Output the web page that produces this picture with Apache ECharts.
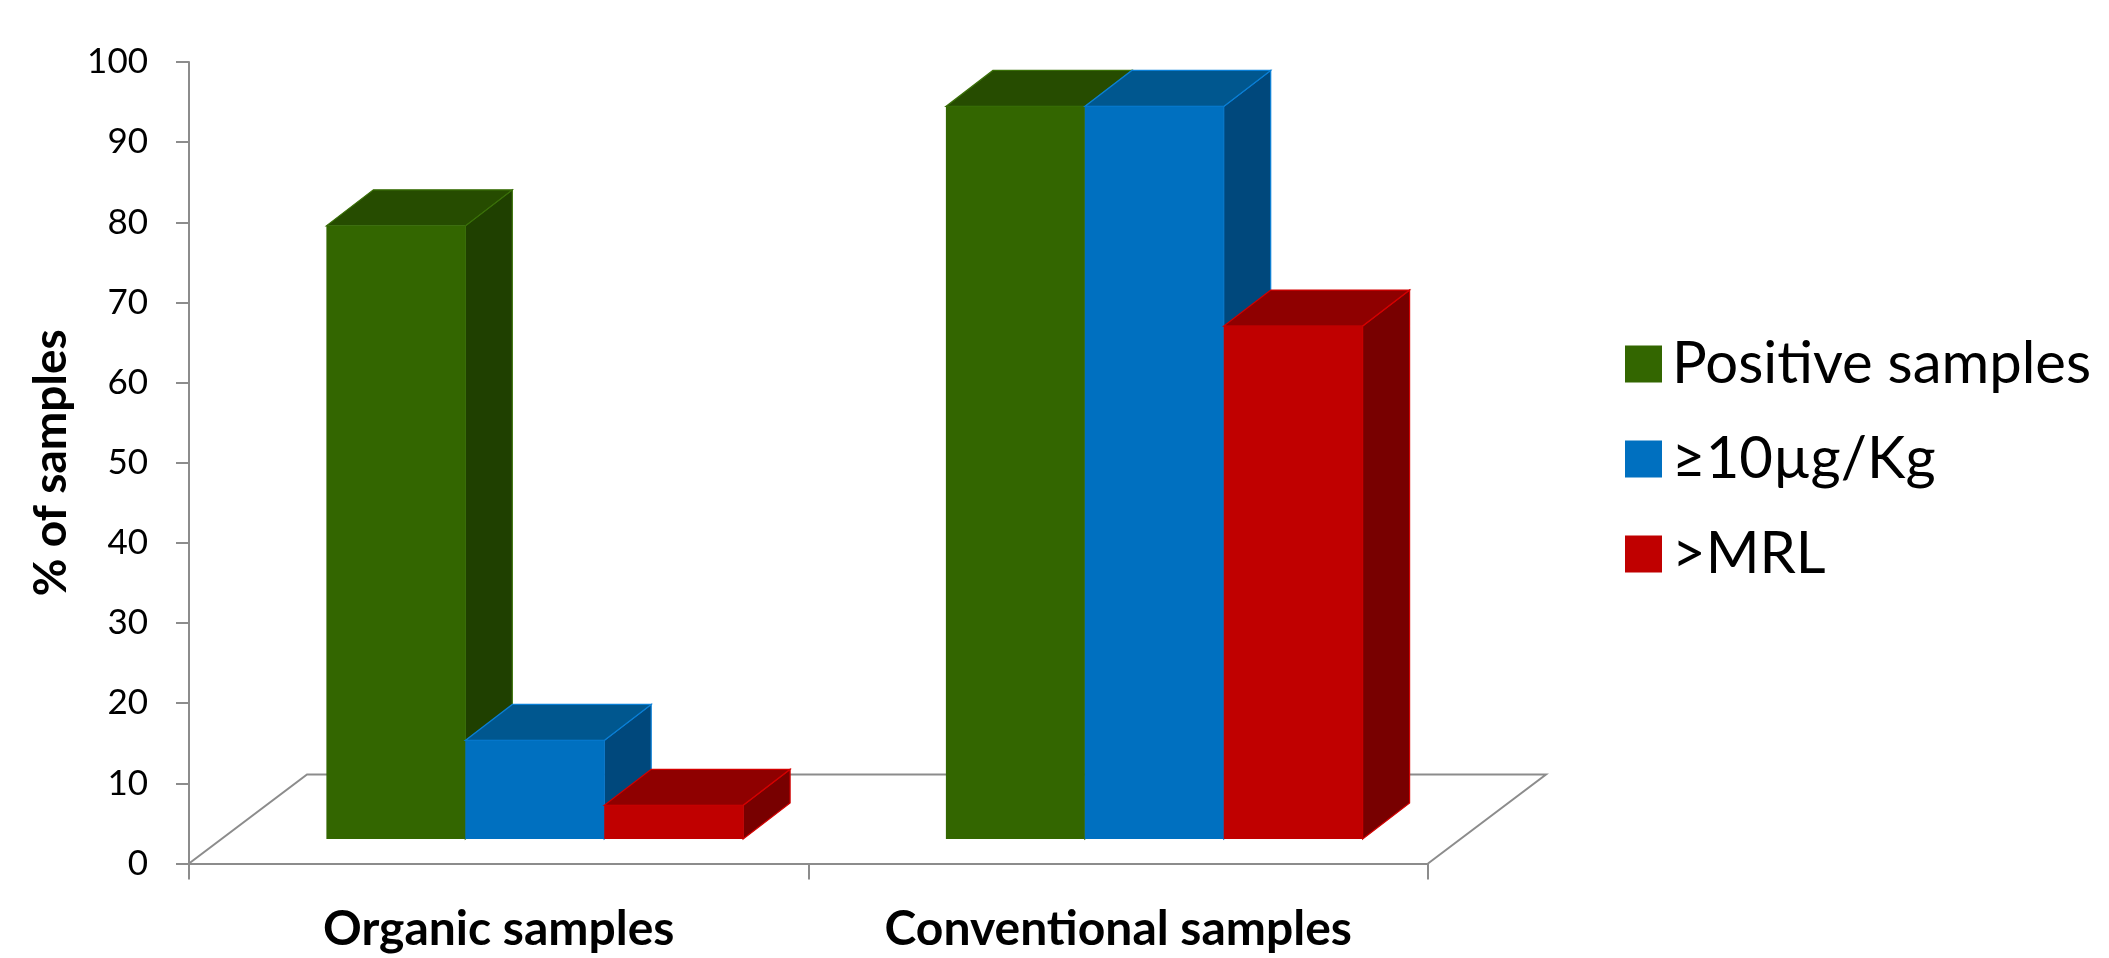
<!DOCTYPE html>
<html>
<head>
<meta charset="utf-8">
<script src="https://cdn.jsdelivr.net/npm/echarts/dist/echarts.min.js"></script>
<style>
  html, body { margin: 0; padding: 0; background: #ffffff; }
  #chart { width: 2109px; height: 958px; }
</style>
</head>
<body>
<div id="chart"></div>
<script>
// Categories and series values (% of samples)
const categories = ['Organic samples', 'Conventional samples'];
const seriesNames = ['Positive samples', '\u226510\u00b5g/Kg', '>MRL'];
const positiveSamples = [76.5, 91.4];
const above10ugKg = [12.3, 91.4];
const aboveMRL = [4.2, 64.0];
const valueAxisMin = 0;
const valueAxisMax = 100;
const valueAxisStep = 10;

// Face colours for each 3-D column: front, top, side, edge
const palettes = [
  { front: '#336600', top: '#264c00', side: '#1f4000', edge: '#3a7008' },
  { front: '#0070c0', top: '#00578f', side: '#00487c', edge: '#0a7fd6' },
  { front: '#c00000', top: '#8f0000', side: '#780000', edge: '#d40000' }
];

// Oblique projection offsets (pixels)
const FLOOR_DEPTH = [118, -89];   // depth of the floor plate
const BAR_FRONT = [36, -24.5];    // where the column front faces sit
const BAR_DEPTH = [47, -36];      // depth of each column

function barRenderer(seriesIdx, pal) {
  return function (params, api) {
    const cat = api.value(0);
    const val = api.value(1);
    const base = api.coord([cat, 0]);
    const top = api.coord([cat, val]);
    const band = api.size([1, 0])[0];
    const bw = band / 4.46;
    const x0 = base[0] - 1.5 * bw + seriesIdx * bw + BAR_FRONT[0];
    const x1 = x0 + bw;
    const yb = base[1] + BAR_FRONT[1];
    const yt = top[1] + BAR_FRONT[1];
    const dx = BAR_DEPTH[0], dy = BAR_DEPTH[1];
    return {
      type: 'group',
      children: [
        {
          type: 'polygon',
          shape: { points: [[x1, yb], [x1 + dx, yb + dy], [x1 + dx, yt + dy], [x1, yt]] },
          style: { fill: pal.side, stroke: pal.edge, lineWidth: 1.2 }
        },
        {
          type: 'polygon',
          shape: { points: [[x0, yt], [x1, yt], [x1 + dx, yt + dy], [x0 + dx, yt + dy]] },
          style: { fill: pal.top, stroke: pal.edge, lineWidth: 1.2 }
        },
        {
          type: 'rect',
          shape: { x: x0, y: yt, width: bw, height: yb - yt },
          style: { fill: pal.front }
        }
      ]
    };
  };
}

function floorRenderer(params, api) {
  const cs = params.coordSys;
  const xl = cs.x, xr = cs.x + cs.width, y = cs.y + cs.height;
  return {
    type: 'polyline',
    shape: {
      points: [
        [xl, y],
        [xl + FLOOR_DEPTH[0], y + FLOOR_DEPTH[1]],
        [xr + FLOOR_DEPTH[0], y + FLOOR_DEPTH[1]],
        [xr, y]
      ]
    },
    style: { stroke: '#8c8c8c', lineWidth: 2, fill: null }
  };
}

const seriesValues = [positiveSamples, above10ugKg, aboveMRL];

const chart = echarts.init(document.getElementById('chart'), null, { renderer: 'canvas' });

const series = [{
  type: 'custom',
  name: 'floor',
  renderItem: floorRenderer,
  data: [[0, 0]],
  silent: true,
  z: 1
}];
seriesNames.forEach(function (name, i) {
  series.push({
    type: 'custom',
    name: name,
    renderItem: barRenderer(i, palettes[i]),
    itemStyle: { color: palettes[i].front },
    encode: { x: 0, y: 1 },
    data: categories.map(function (c, k) { return [k, seriesValues[i][k]]; }),
    z: 2
  });
});

chart.setOption({
  animation: false,
  backgroundColor: '#ffffff',
  textStyle: { fontFamily: 'Lato' },
  grid: { left: 189, top: 62, width: 1239, height: 801.5, containLabel: false },
  legend: {
    data: seriesNames,
    orient: 'vertical',
    left: 1620,
    top: 330,
    icon: 'rect',
    itemWidth: 37,
    itemHeight: 37,
    itemGap: 37,
    textStyle: {
      fontFamily: 'Lato',
      fontSize: 58,
      lineHeight: 56,
      color: '#000000',
      padding: [0, 0, 0, 5]
    },
    selectedMode: false
  },
  xAxis: {
    type: 'category',
    data: categories,
    boundaryGap: true,
    axisLine: { show: true, lineStyle: { color: '#8c8c8c', width: 2 } },
    axisTick: { show: true, length: 16, alignWithLabel: false, lineStyle: { color: '#8c8c8c', width: 2 } },
    axisLabel: {
      interval: 0,
      margin: 42,
      color: '#000000',
      fontFamily: 'Lato',
      fontSize: 48,
      fontWeight: 'bold'
    },
    splitLine: { show: false }
  },
  yAxis: {
    type: 'value',
    min: valueAxisMin,
    max: valueAxisMax,
    interval: valueAxisStep,
    name: '% of samples',
    nameLocation: 'middle',
    nameGap: 115,
    nameTextStyle: { fontFamily: 'Lato', fontSize: 46, fontWeight: 'bold', color: '#000000' },
    axisLine: { show: true, lineStyle: { color: '#8c8c8c', width: 2 } },
    axisTick: { show: true, length: 13, lineStyle: { color: '#8c8c8c', width: 2 } },
    axisLabel: { margin: 41, color: '#000000', fontFamily: 'Lato', fontSize: 35 },
    splitLine: { show: false }
  },
  series: series
});
</script>
</body>
</html>
